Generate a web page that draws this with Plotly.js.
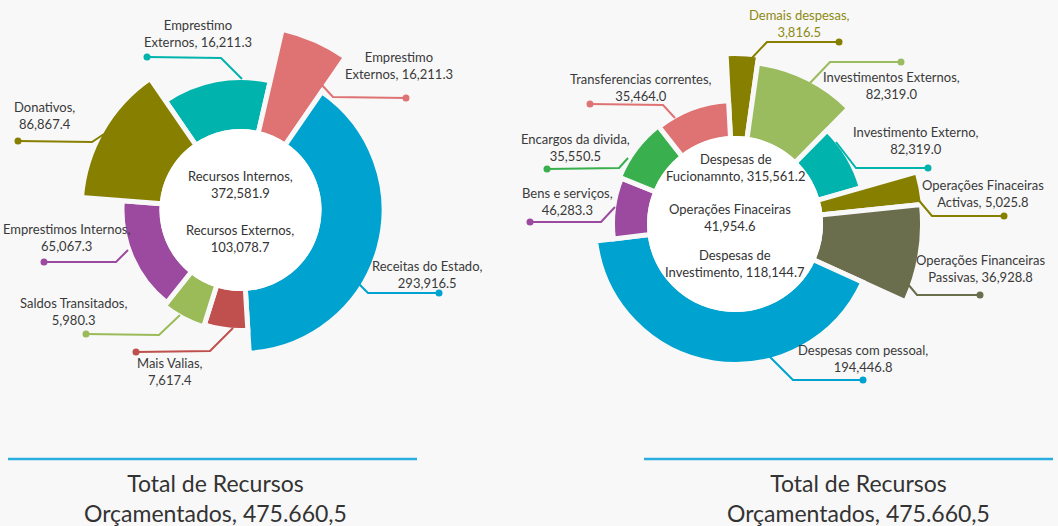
<!DOCTYPE html>
<html>
<head>
<meta charset="utf-8">
<script src="https://cdn.plot.ly/plotly-3.0.1.min.js"></script>
<style>
  html, body { margin: 0; padding: 0; background: #f8f8f8; }
  #chart { width: 1058px; height: 526px; }
</style>
</head>
<body>
<div id="chart"></div>
<script>
// ---------- DATA ----------
// Left donut: Recursos
const leftNames  = ['Emprestimo\nExternos', 'Emprestimo\nExternos', 'Receitas do Estado', 'Mais Valias', 'Saldos Transitados', 'Emprestimos Internos', 'Donativos'];
const leftValues = [16211.3, 16211.3, 293916.5, 7617.4, 5980.3, 65067.3, 86867.4];
const leftShare  = [47.5, 21.5, 142, 21, 21, 56, 51];        // slice angle (deg) as drawn
const leftDepth  = [130, 183, 141, 118, 120, 116, 157];      // slice outer radius (z) as drawn
const leftColors = ['#00b3ad', '#df7373', '#00a2cf', '#c0504d', '#9bbb59', '#9c4aa0', '#867f00'];
const leftCenterNames  = ['Recursos Internos', 'Recursos Externos'];
const leftCenterValues = [372581.9, 103078.7];

// Right donut: Despesas
const rightNames  = ['Demais despesas', 'Investimentos Externos', 'Investimento Externo', 'Operações Finaceiras\nActivas', 'Operações Financeiras\nPassivas', 'Despesas com pessoal', 'Bens e serviços', 'Encargos da divida', 'Transferencias correntes'];
const rightValues = [3816.5, 82319.0, 82319.0, 5025.8, 36928.8, 194446.8, 46283.3, 35550.5, 35464.0];
const rightShare  = [11, 36.5, 29.5, 10, 30.5, 148.5, 29, 30, 35];
const rightDepth  = [168, 160, 129, 187, 185, 138, 120, 122, 121];
const rightColors = ['#867f00', '#9bbb5f', '#00b3ad', '#867f00', '#6a6e4d', '#00a2cf', '#9c4aa0', '#3aaf4d', '#df7373'];
const rightCenterNames  = ['Despesas de\nFucionamnto', 'Operações Finaceiras', 'Despesas de\nInvestimento'];
const rightCenterValues = [315561.2, 41954.6, 118144.7];

const totalTitle = 'Total de Recursos\nOrçamentados';
const totalValue = 475660.5;

// ---------- LAYOUT CONFIG ----------
const W = 1058, H = 526, BG = '#f8f8f8';
const GAP = 5;
const L = {cx: 240.5, cy: 210, hole: 81, R: 190, start: -34.5};
const Rt = {cx: 735, cy: 224, hole: 88, R: 195, start: -3};

const leftLabelPos = [
  {pts: [[242,79],[221,58],[147,57]],   text: [198,33.5]},
  {pts: [[320,83],[333,97],[406,98]],   text: [399,66]},
  {pts: [[359,284],[368,293],[439,293]], text: [427,274]},
  {pts: [[233,328],[210,351],[136,352]], text: [170,371]},
  {pts: [[180,315],[159,335],[86,334]], text: [73,311]},
  {pts: [[128,250],[116,262],[44,262]], text: [66,237.5]},
  {pts: [[104,134],[92,142],[18,141]],  text: [44,115]}
];
const rightLabelPos = [
  {pts: [[749,61],[767,42],[839,42]],   text: [799,23.5], color: '#8e8a12'},
  {pts: [[810,83],[830,62],[901,62]],   text: [892,85.5]},
  {pts: [[836,142],[856,168],[928,168]], text: [916,140.5]},
  {pts: [[916,197],[932,216],[1004,216]], text: [983,193.5]},
  {pts: [[907,283],[917,295],[980,295]], text: [980,268]},
  {pts: [[766,353],[793,380],[863,380]], text: [863,358.5]},
  {pts: [[615,207],[601,222],[530,222]], text: [567,201]},
  {pts: [[628,158],[619,168],[547,169]], text: [575,147]},
  {pts: [[675,118],[663,105],[590,104]], text: [641,87]}
];
const leftCenterPos = [[240,184.5],[240,238]];
const leftCenterSep = [',<br>', ',<br>'];
const rightCenterPos = [[735,167],[730,217],[735,263]];
const rightCenterSep = [', ', '<br>', ', '];

// ---------- HELPERS ----------
function fmt(v) {
  const parts = v.toFixed(1).split('.');
  return parts[0].replace(/\B(?=(\d{3})+(?!\d))/g, ',') + '.' + parts[1];
}
function fmtEU(v) {
  return fmt(v).replace(/,/g, '#').replace('.', ',').replace(/#/g, '.');
}
function labelText(name, v) {
  if (name.indexOf('\n') >= 0) return name.replace('\n', '<br>') + ', ' + fmt(v);
  return name + ',<br>' + fmt(v);
}
const px = x => x / W;
const py = y => 1 - y / H;

function donutTrace(share, depth, colors, cfg, sub) {
  const theta = [], width = [], r = [], base = [];
  let acc = cfg.start;
  const inner = cfg.hole - GAP / 2;
  for (let i = 0; i < share.length; i++) {
    theta.push(acc + share[i] / 2);
    width.push(share[i]);
    acc += share[i];
    base.push(inner);
    r.push(depth[i] + GAP / 2 - inner);
  }
  return {
    type: 'barpolar', subplot: sub, theta: theta, width: width, r: r, base: base,
    marker: {color: colors, line: {color: BG, width: GAP}},
    hoverinfo: 'skip', showlegend: false
  };
}
function polarLayout(cfg) {
  return {
    domain: {x: [px(cfg.cx - cfg.R), px(cfg.cx + cfg.R)], y: [py(cfg.cy + cfg.R), py(cfg.cy - cfg.R)]},
    bgcolor: 'rgba(0,0,0,0)',
    radialaxis: {visible: false, range: [0, cfg.R], showgrid: false, showline: false, ticks: ''},
    angularaxis: {visible: false, rotation: 90, direction: 'clockwise', showgrid: false, showline: false, ticks: ''},
    barmode: 'overlay'
  };
}

const shapes = [];
const annotations = [];
const font13 = {family: 'Lato, "Open Sans", sans-serif', size: 13, color: '#3a3a3a'};

function addHole(cfg) {
  shapes.push({type: 'circle', xref: 'paper', yref: 'paper', layer: 'above',
    x0: px(cfg.cx - cfg.hole), x1: px(cfg.cx + cfg.hole),
    y0: py(cfg.cy + cfg.hole), y1: py(cfg.cy - cfg.hole),
    fillcolor: '#ffffff', line: {width: 0}});
}
function addLabels(names, values, colors, pos) {
  for (let i = 0; i < names.length; i++) {
    const p = pos[i];
    const d = 'M ' + p.pts.map(q => px(q[0]) + ',' + py(q[1])).join(' L ');
    shapes.push({type: 'path', xref: 'paper', yref: 'paper', layer: 'above', path: d,
      line: {color: colors[i], width: 2}});
    const dot = p.pts[p.pts.length - 1];
    shapes.push({type: 'circle', xref: 'paper', yref: 'paper', layer: 'above',
      x0: px(dot[0] - 3.5), x1: px(dot[0] + 3.5), y0: py(dot[1] + 3.5), y1: py(dot[1] - 3.5),
      fillcolor: colors[i], line: {width: 0}});
    annotations.push({xref: 'paper', yref: 'paper', x: px(p.text[0]), y: py(p.text[1]),
      xanchor: 'center', yanchor: 'middle', showarrow: false, align: 'center',
      text: labelText(names[i], values[i]),
      font: Object.assign({}, font13, p.color ? {color: p.color} : {})});
  }
}
function addCenter(names, values, pos, sep) {
  for (let i = 0; i < names.length; i++) {
    annotations.push({xref: 'paper', yref: 'paper', x: px(pos[i][0]), y: py(pos[i][1]),
      xanchor: 'center', yanchor: 'middle', showarrow: false, align: 'center',
      text: names[i].replace('\n', '<br>') + sep[i] + fmt(values[i]),
      font: Object.assign({}, font13, {size: 13, color: '#333333'})});
  }
}

addHole(L); addHole(Rt);
addLabels(leftNames, leftValues, leftColors, leftLabelPos);
addLabels(rightNames, rightValues, rightColors, rightLabelPos);
addCenter(leftCenterNames, leftCenterValues, leftCenterPos, leftCenterSep);
addCenter(rightCenterNames, rightCenterValues, rightCenterPos, rightCenterSep);

// bottom totals
[[8, 417, 215], [644, 1053, 858]].forEach(b => {
  shapes.push({type: 'line', xref: 'paper', yref: 'paper', x0: px(b[0]), x1: px(b[1]),
    y0: py(459), y1: py(459), line: {color: '#2aaee0', width: 2.5}});
  annotations.push({xref: 'paper', yref: 'paper', x: px(b[2]), y: py(498),
    xanchor: 'center', yanchor: 'middle', showarrow: false, align: 'center',
    text: totalTitle.replace('\n', '<br>') + ', ' + fmtEU(totalValue),
    font: {family: 'Lato, "Open Sans", sans-serif', size: 23, color: '#333333'}});
});

const data = [
  donutTrace(leftShare, leftDepth, leftColors, L, 'polar'),
  donutTrace(rightShare, rightDepth, rightColors, Rt, 'polar2')
];
const layout = {
  width: W, height: H,
  margin: {l: 0, r: 0, t: 0, b: 0},
  paper_bgcolor: BG, plot_bgcolor: BG,
  showlegend: false,
  polar: polarLayout(L),
  polar2: polarLayout(Rt),
  shapes: shapes,
  annotations: annotations
};
Plotly.newPlot('chart', data, layout, {staticPlot: true, displayModeBar: false});
</script>
</body>
</html>
